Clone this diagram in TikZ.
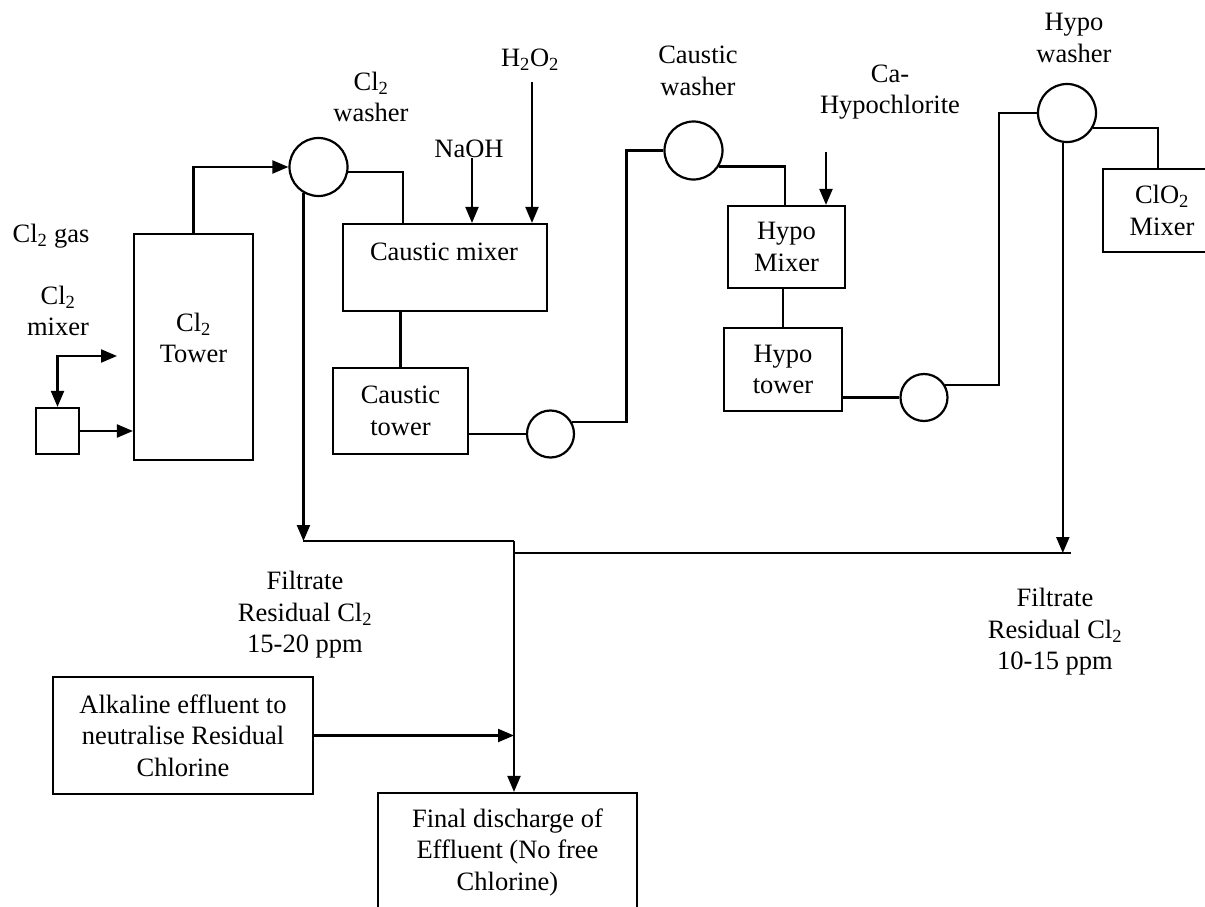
\documentclass[tikz,border=0pt]{standalone}
\usepackage{fontspec}
\setmainfont{Liberation Serif}
\usetikzlibrary{arrows.meta}
\begin{document}
\begin{tikzpicture}[x=1pt,y=-1pt, line width=2.2pt,
 every node/.style={font=\fontsize{26.5}{31.5}\selectfont, align=center, inner sep=0pt},
 box/.style={draw, rectangle},
 vessel/.style={draw, circle, minimum size=58pt},
 pump/.style={draw, circle, minimum size=47pt},
 arr/.style={-{Triangle[length=16pt,width=13pt]}},
 darr/.style={{Triangle[length=16pt,width=13pt]}-{Triangle[length=16pt,width=13pt]}}]
\useasboundingbox (0,0) rectangle (1205,907);
\clip (0,0) rectangle (1205,907);

% nodes
\node[box, minimum width=119pt, minimum height=226pt] (tower) at (193.5,347) {};
\node (towerl) at (193.5,338) {Cl\textsubscript{2}\\Tower};
\node[box, minimum width=43pt, minimum height=46pt] (mx) at (57.5,431) {};
\node (gas) at (51,236) {Cl\textsubscript{2} gas};
\node (mxl) at (58,311) {Cl\textsubscript{2}\\mixer};
\node[vessel] (w1) at (318.5,167) {};
\node (w1l) at (371,97) {Cl\textsubscript{2}\\washer};
\node[box, minimum width=204pt, minimum height=87pt] (cm) at (445,267.5) {};
\node (cml) at (444,252) {Caustic mixer};
\node (naoh) at (469,149) {NaOH};
\node (h2o2) at (530,60) {H\textsubscript{2}O\textsubscript{2}};
\node[box, minimum width=135pt, minimum height=86pt] (ct) at (400.5,411) {Caustic\\tower};
\node[pump] (p1) at (550.5,434) {};
\node[vessel] (w2) at (693.5,150.5) {};
\node (w2l) at (698,71) {Caustic\\washer};
\node (cah) at (890,92) {Ca-\\Hypochlorite};
\node[box, minimum width=117pt, minimum height=82pt] (hm) at (786.5,247) {Hypo\\Mixer};
\node[box, minimum width=118pt, minimum height=83pt] (ht) at (783,369.5) {Hypo\\tower};
\node[pump] (p2) at (924,397.5) {};
\node[vessel] (w3) at (1067,113) {};
\node (w3l) at (1074,38) {Hypo\\washer};
\node[box, minimum width=118pt, minimum height=83pt] (clo) at (1162,210.5) {ClO\textsubscript{2}\\Mixer};
\node (fl) at (305,615) {Filtrate\\Residual Cl\textsubscript{2}\\15-20 ppm};
\node (fr) at (1055,632) {Filtrate\\Residual Cl\textsubscript{2}\\10-15 ppm};
\node[box, minimum width=260pt, minimum height=117pt] (alk) at (183,735.5) {Alkaline effluent to\\neutralise Residual\\Chlorine};
\node[box, minimum width=259pt, minimum height=140pt] (fd) at (507.5,863) {};
\node (fdl) at (507.5,852) {Final discharge of\\Effluent (No free\\Chlorine)};

% coordinates
\coordinate (mxR) at (117,356);
\coordinate (naohS) at (472,158);
\coordinate (h2S) at (532,82);
\coordinate (caIn) at (826,152);
\coordinate (jC) at (514,541);
\coordinate (jR) at (1071,553);
\coordinate (w1b) at (w1.-120);
\coordinate (w3b) at (w3.-98);

% connectors
\draw[darr] (mxR) -| (mx.north);
\draw[arr] (mx.east) -- (mx.east -| tower.west);
\draw[arr] (tower.north) |- (w1.west);
\draw (w1.-10) -| ([xshift=-42pt]cm.north);
\draw[arr] (naohS) -- (naohS |- cm.north);
\draw[arr] (h2S) -- (h2S |- cm.north);
\draw (cm.south -| ct.north) -- (ct.north);
\draw (ct.east |- p1.west) -- (p1.west);
\draw (p1.30) -| ([xshift=-37pt]w2.west) -- (w2.west);
\draw (w2.-32) -| ([xshift=-1.5pt]hm.north);
\draw[arr] (caIn) -- (caIn |- hm.north);
\draw (hm.south -| ht.north) -- (ht.north);
\draw (ht.east |- p2.west) -- (p2.west);
\draw (p2.30) -| ([xshift=-38pt]w3.west) -- (w3.west);
\draw (w3.-30) -| ([xshift=-4pt]clo.north);
\draw[arr] (w3b) -- (w3b |- jR);
\draw[arr] (w1b) -- (w1b |- jC);
\draw (w1b |- jC) -- (jC);
\draw[arr] (jC) -- (jC |- fd.north);
\draw (jC |- jR) -- (jR);
\draw[arr] (alk.east) -- (alk.east -| jC);
\end{tikzpicture}
\end{document}
